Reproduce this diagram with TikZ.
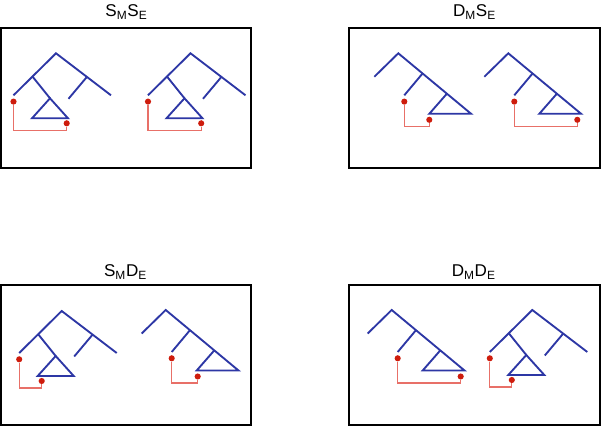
\documentclass[tikz,border=0pt]{standalone}
\usepackage{fontspec}
\setmainfont{Liberation Sans}
\usepackage{xcolor}
\usepackage{tikz}
\usetikzlibrary{positioning}

\definecolor{treeblue}{RGB}{45,55,165}
\definecolor{tracered}{RGB}{232,112,104}
\definecolor{dotred}{RGB}{206,28,12}

% the two tree kinds; the argument is the x of the second dot
\tikzset{
    pics/treeA/.style={code={
        \draw[branch] (-42.5,42) -- (0,0) -- (55,42);
        \draw[branch] (-23.3,23.5) -- (-6,45);
        \draw[branch] (-24,65) -- (-6,45) -- (12,65) -- cycle;
        \draw[branch] (31,23.5) -- (12.5,45.5);
        \node[dot] (-lo) at (-42.5,48.3) {};
        \node[dot] (-hi) at (#1,70) {};
        \draw[trace] (-lo) -- ++(0,28.7) -| (-hi);
    }},
    pics/treeB/.style={code={
        \draw[branch] (-24,23.5) -- (0,0) -- (72.8,60.5) -- (31,60.5) -- (48.5,40.5);
        \draw[branch] (24,20.5) -- (6,42);
        \node[dot] (-lo) at (6,48.3) {};
        \node[dot] (-hi) at (#1,66.5) {};
        \draw[trace] (-lo) -- ++(0,24.7) -| (-hi);
    }}
}

\begin{document}
\begin{tikzpicture}[x=0.75pt,y=-0.75pt,
        branch/.style={draw=treeblue,line width=1.4pt,line join=miter},
        trace/.style={draw=tracered,line width=0.9pt},
        dot/.style={circle,fill=dotred,inner sep=0pt,minimum size=4.6pt},
        panel/.style={draw=black,line width=1.6pt},
        title/.style={anchor=base,font=\fontsize{12.8}{14}\selectfont}]
        \useasboundingbox (0,0) rectangle (601,427);

        % Panels
        \draw[panel] (1,28) rectangle (251,168);
        \draw[panel] (349,28) rectangle (600,168);
        \draw[panel] (1,285) rectangle (251,425);
        \draw[panel] (349,285) rectangle (600,425);

        % Titles
        \node[title] (ss) at (126.5,16.7) {S\textsubscript{M}S\textsubscript{E}};
        \node[title] (ds) at (474.5,16.7) {D\textsubscript{M}S\textsubscript{E}};
        \node[title] (sd) at (125.5,276.7) {S\textsubscript{M}D\textsubscript{E}};
        \node[title] (dd) at (473.7,276.7) {D\textsubscript{M}D\textsubscript{E}};

        % Trees with their traces
        \foreach \rx/\ry/\kind/\ex [count=\i] in {56/53.3/A/10.7, 190.5/53.3/A/10.7,
                398.3/53.3/B/31, 508.3/53.3/B/69,
                61.7/311/A/-20, 165.7/310/B/32,
                391.7/310/B/69, 532.3/310/A/-20.5} {
            \pic (tree\i) at (\rx,\ry) {tree\kind=\ex};
        }

    \end{tikzpicture}
\end{document}
